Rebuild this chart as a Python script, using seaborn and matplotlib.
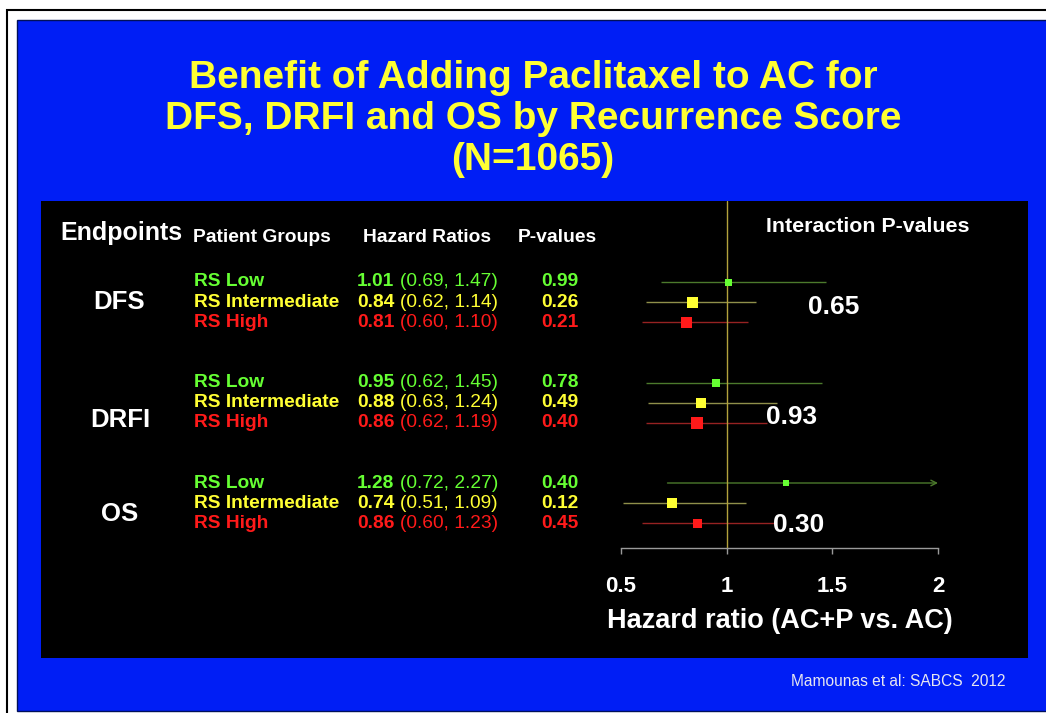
"""
Forest plot: benefit of adding paclitaxel to AC by recurrence score (slide recreation)
"""
import numpy as np
import pandas as pd
import seaborn as sns
import matplotlib.pyplot as plt
from matplotlib.patches import Rectangle
from matplotlib import transforms

# --- data ---
endpoints = ['DFS', 'DRFI', 'OS']
groups = ['RS Low', 'RS Intermediate', 'RS High']
hr = [1.01, 0.84, 0.81, 0.95, 0.88, 0.86, 1.28, 0.74, 0.86]
ci_lo = [0.69, 0.62, 0.60, 0.62, 0.63, 0.62, 0.72, 0.51, 0.60]
ci_hi = [1.47, 1.14, 1.10, 1.45, 1.24, 1.19, 2.27, 1.09, 1.23]
p_values = ['0.99', '0.26', '0.21', '0.78', '0.49', '0.40', '0.40', '0.12', '0.45']
interaction_p = ['0.65', '0.93', '0.30']
box_px = [7, 11, 11, 8, 10, 12, 6, 10, 9]   # square size ~ study weight
x_ticks = [0.5, 1, 1.5, 2]

W, H = 1046, 713
GREEN, YELLOW, RED = '#66ff33', '#ffff33', '#ff1a1a'
text_colors = {'RS Low': GREEN, 'RS Intermediate': YELLOW, 'RS High': RED}
line_colors = {'RS Low': '#4c7a2c', 'RS Intermediate': '#8f8f4a', 'RS High': '#962222'}

df = pd.DataFrame({
    'endpoint': np.repeat(endpoints, len(groups)),
    'group': groups * len(endpoints),
    'hr': hr, 'lo': ci_lo, 'hi': ci_hi, 'p': p_values, 'box': box_px,
})
# row position: 5 rows per endpoint block (3 used, 2 blank)
df['y'] = df['endpoint'].map({e: 5 * i for i, e in enumerate(endpoints)}) + \
    df['group'].map({g: i for i, g in enumerate(groups)})

sns.set_theme(style='dark')
plt.rcParams['font.family'] = ['Liberation Sans', 'DejaVu Sans']

fig = plt.figure(figsize=(W / 100, H / 100), dpi=100)
fig.patch.set_facecolor('white')

# pixel -> figure transform (y measured from the top)
px = transforms.Affine2D().scale(1 / W, -1 / H).translate(0, 1) + fig.transFigure


def rect(x0, y0, x1, y1, **kw):
    fig.patches.append(Rectangle((x0, y1), x1 - x0, y0 - y1, transform=px,
                                 zorder=-5, **kw))


rect(7, 10, W + 5, H + 5, facecolor='white', edgecolor='black', linewidth=1.5)
rect(17, 20, W + 5, 711, facecolor='#001ef5', edgecolor='#00105a', linewidth=1)
rect(41, 201, 1028, 658, facecolor='black', edgecolor='none')

# title
title_lines = ['Benefit of Adding Paclitaxel to AC for',
               'DFS, DRFI and OS by Recurrence Score',
               '(N=1065)']
for i, line in enumerate(title_lines):
    fig.text(533, 78 + 41 * i, line, transform=px, ha='center', va='center',
             color=YELLOW, fontsize=28, fontweight='bold')

# forest axes
ax_l, ax_r, ax_t, ax_b = 600, 960, 201, 548
ax = fig.add_axes([ax_l / W, 1 - ax_b / H, (ax_r - ax_l) / W, (ax_b - ax_t) / H])
ax.set_zorder(2)
ax.set_facecolor('none')
scale = (938 - 621) / 1.5
ax.set_xlim(0.5 - (621 - ax_l) / scale, 2 + (ax_r - 938) / scale)
row_px = 20.1
ax.set_ylim((ax_b - 282) / row_px, (ax_t - 282) / row_px)

x_max = x_ticks[-1]
for _, r in df.iterrows():
    c = line_colors[r['group']]
    if r['hi'] > x_max:
        ax.annotate('', xy=(x_max, r['y']), xytext=(r['lo'], r['y']),
                    arrowprops=dict(arrowstyle='->', color=c, lw=1,
                                    shrinkA=0, shrinkB=0, mutation_scale=10),
                    zorder=1)
    else:
        ax.hlines(r['y'], r['lo'], r['hi'], color=c, linewidth=1, zorder=1)

ax.axvline(1, color='#b3a23c', linewidth=1, zorder=2)

sns.scatterplot(data=df, x='hr', y='y', hue='group', palette=text_colors,
                size='box', sizes={b: (b * 0.72) ** 2 for b in set(box_px)},
                marker='s', linewidth=0, legend=False, ax=ax, zorder=3)

for side in ['top', 'left', 'right']:
    ax.spines[side].set_visible(False)
ax.spines['bottom'].set_bounds(x_ticks[0], x_ticks[-1])
ax.spines['bottom'].set_color('#9a9a9a')
ax.spines['bottom'].set_linewidth(1)
ax.set_xticks(x_ticks)
ax.set_xticklabels(['0.5', '1', '1.5', '2'])
ax.set_yticks([])
ax.tick_params(axis='x', direction='out', length=4, width=1, color='#9a9a9a',
               labelcolor='white', labelsize=16, pad=16, bottom=True)
for t in ax.get_xticklabels():
    t.set_fontweight('bold')
ax.set_xlabel('Hazard ratio (AC+P vs. AC)', color='white', fontsize=19.5,
              fontweight='bold', labelpad=8)
ax.set_ylabel('')
ax.grid(False)

# table text, x in pixels, y tied to row positions
blend = transforms.blended_transform_factory(px, ax.transData)
for _, r in df.iterrows():
    c = text_colors[r['group']]
    fig.text(194, r['y'], r['group'], transform=blend, ha='left', va='center',
             color=c, fontsize=13.8, fontweight='bold')
    fig.text(357, r['y'], f"{r['hr']:.2f}", transform=blend, ha='left',
             va='center', color=c, fontsize=13.8, fontweight='bold')
    fig.text(400, r['y'], f"({r['lo']:.2f}, {r['hi']:.2f})", transform=blend,
             ha='left', va='center', color=c, fontsize=13.8)
    fig.text(579, r['y'], r['p'], transform=blend, ha='right', va='center',
             color=c, fontsize=13.8, fontweight='bold')

# headers
fig.text(60, 233, 'Endpoints', transform=px, ha='left', va='center',
         color='white', fontsize=18, fontweight='bold')
for x, label in [(193, 'Patient Groups'), (363, 'Hazard Ratios'), (518, 'P-values')]:
    fig.text(x, 238, label, transform=px, ha='left', va='center',
             color='white', fontsize=13.9, fontweight='bold')
fig.text(766, 226, 'Interaction P-values', transform=px, ha='left', va='center',
         color='white', fontsize=15.4, fontweight='bold')

# endpoint labels and interaction p-values
for (x, y), label in zip([(119, 302), (120, 420), (120, 514)], endpoints):
    fig.text(x, y, label, transform=px, ha='center', va='center',
             color='white', fontsize=18.5, fontweight='bold')
for (x, y), label in zip([(808, 307), (766, 417), (773, 525)], interaction_p):
    fig.text(x, y, label, transform=px, ha='left', va='center',
             color='white', fontsize=18.9, fontweight='bold')

fig.text(791, 681, 'Mamounas et al: SABCS  2012', transform=px, ha='left',
         va='center', color='#e6e6f0', fontsize=11.2)

fig.savefig('out.png', dpi=100, facecolor=fig.get_facecolor())
